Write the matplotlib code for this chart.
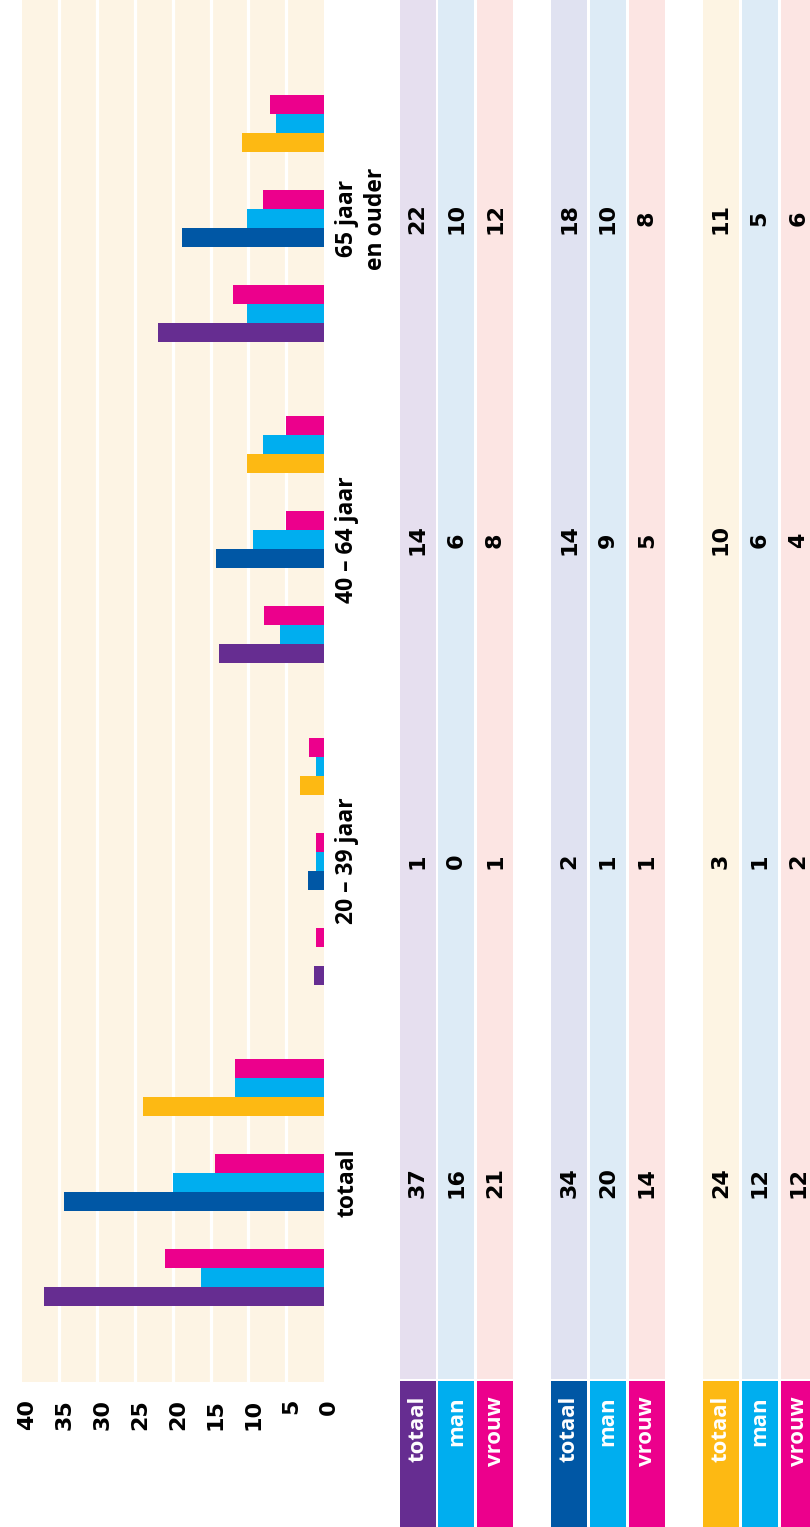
import numpy as np
import matplotlib.pyplot as plt
from matplotlib.transforms import ScaledTranslation, blended_transform_factory

# categories (age groups) and table rows
categories = ['totaal', '20 – 39 jaar', '40 – 64 jaar', '65 jaar\nen ouder']
rows = ['totaal', 'man', 'vrouw']

# bar lengths (%), one list per bar series
purple_totaal = [37, 1.3, 13.9, 22]
purple_man = [16.3, 0, 5.8, 10.2]
purple_vrouw = [21, 1.1, 7.9, 12]
blue_totaal = [34.4, 2.1, 14.3, 18.8]
blue_man = [20, 1.1, 9.4, 10.2]
blue_vrouw = [14.4, 1.1, 5, 8.1]
yellow_totaal = [24, 3.2, 10.2, 10.8]
yellow_man = [11.8, 1.1, 8.1, 6.3]
yellow_vrouw = [11.8, 2, 5, 7.1]

# numbers printed in the table
tab_purple = [[37, 1, 14, 22], [16, 0, 6, 10], [21, 1, 8, 12]]
tab_blue = [[34, 2, 14, 18], [20, 1, 9, 10], [14, 1, 5, 8]]
tab_yellow = [[24, 3, 10, 11], [12, 1, 6, 5], [12, 2, 4, 6]]

value_ticks = [0, 5, 10, 15, 20, 25, 30, 35, 40]

# colours
PURPLE, DBLUE, YELLOW = '#662d91', '#0057a5', '#fdb913'
LBLUE, PINK = '#00aeef', '#ec008c'
BEIGE = '#fdf4e4'
light = {'purple': '#e6dfef', 'dblue': '#e0e2f1', 'yellow': '#fdf4e3',
         'man': '#ddebf6', 'vrouw': '#fce5e3'}

W, H = 810, 1527
PPU = 321.3                      # pixels per category unit
chart_bottom = 1382              # px from top
y0 = -0.621                      # data y at chart bottom
y1 = y0 + chart_bottom / PPU
yb = y0 - (H - chart_bottom) / PPU

fig = plt.figure(figsize=(W / 100, H / 100), dpi=100)

# ---- bar chart (drawn rotated: value axis runs right to left) ----
ax = fig.add_axes([21.6 / W, (H - chart_bottom) / H, 302.4 / W, chart_bottom / H])
ax.set_facecolor(BEIGE)
ax.set_xlim(40, 0)
ax.set_ylim(y0, y1)
for s in ax.spines.values():
    s.set_visible(False)

cl_off = 95 / PPU
bar_off = 19 / PPU
cat = np.arange(len(categories))
series = [
    (-cl_off, [(purple_totaal, PURPLE), (purple_man, LBLUE), (purple_vrouw, PINK)]),
    (0, [(blue_totaal, DBLUE), (blue_man, LBLUE), (blue_vrouw, PINK)]),
    (cl_off, [(yellow_totaal, YELLOW), (yellow_man, LBLUE), (yellow_vrouw, PINK)]),
]
for co, bars in series:
    for k, (vals, col) in enumerate(bars):
        ax.barh(cat + co + (k - 1) * bar_off, vals, height=bar_off, color=col, zorder=3)

ax.xaxis.remove_overlapping_locs = False
ax.set_xticks(value_ticks)
ax.set_xticklabels([str(v) for v in value_ticks], rotation=90, va='top', ha='center',
                   fontsize=16, fontweight='bold', family='DejaVu Sans')
ax.set_xticks(value_ticks[1:-1], minor=True)
ax.tick_params(axis='x', which='both', length=0, pad=12.2)
ax.set_yticks([])
ax.grid(which='minor', axis='x', color='white', lw=2.3)
ax.grid(which='major', visible=False)
ax.set_axisbelow(True)
for lab in ax.get_xticklabels():
    lab.set_transform(lab.get_transform() + ScaledTranslation(5 / 100, 0, fig.dpi_scale_trans))

tr = blended_transform_factory(ax.transAxes, ax.transData)
for i, c in enumerate(categories):
    ax.text((335 - 21.6) / 302.4, i, c, transform=tr, rotation=90, ha='left', va='center',
            fontsize=16.5, fontweight='bold', family='Open Sans', linespacing=1.3,
            multialignment='center', clip_on=False)

# ---- table ----
axt = fig.add_axes([380 / W, 0, 430 / W, 1])
axt.set_xlim(380, 810)
axt.set_ylim(yb, y1)
axt.axis('off')

col_w = 36
first_col = 417.5
col_pitch = 38.8
grp_pitch = 151.7
tables = [(tab_purple, PURPLE, light['purple']), (tab_blue, DBLUE, light['dblue']),
          (tab_yellow, YELLOW, light['yellow'])]
head_top = yb + 146 / PPU
stripe_bot = yb + 148 / PPU
text_top = yb + 131 / PPU
for g, (tab, strong, pale) in enumerate(tables):
    strong_cols = [strong, LBLUE, PINK]
    pale_cols = [pale, light['man'], light['vrouw']]
    for k in range(3):
        x = first_col + g * grp_pitch + k * col_pitch
        axt.bar(x, y1 - stripe_bot, bottom=stripe_bot, width=col_w, color=pale_cols[k])
        axt.bar(x, head_top - yb, bottom=yb, width=col_w, color=strong_cols[k])
        axt.text(x, text_top, rows[k], rotation=90, ha='center', va='top', color='white',
                 fontsize=16, fontweight='bold', family='Open Sans')
        for i, v in enumerate(tab[k]):
            axt.text(x, i, str(v), rotation=90, ha='center', va='center',
                     fontsize=16, fontweight='bold', family='DejaVu Sans')

fig.savefig('out.png', dpi=100)
